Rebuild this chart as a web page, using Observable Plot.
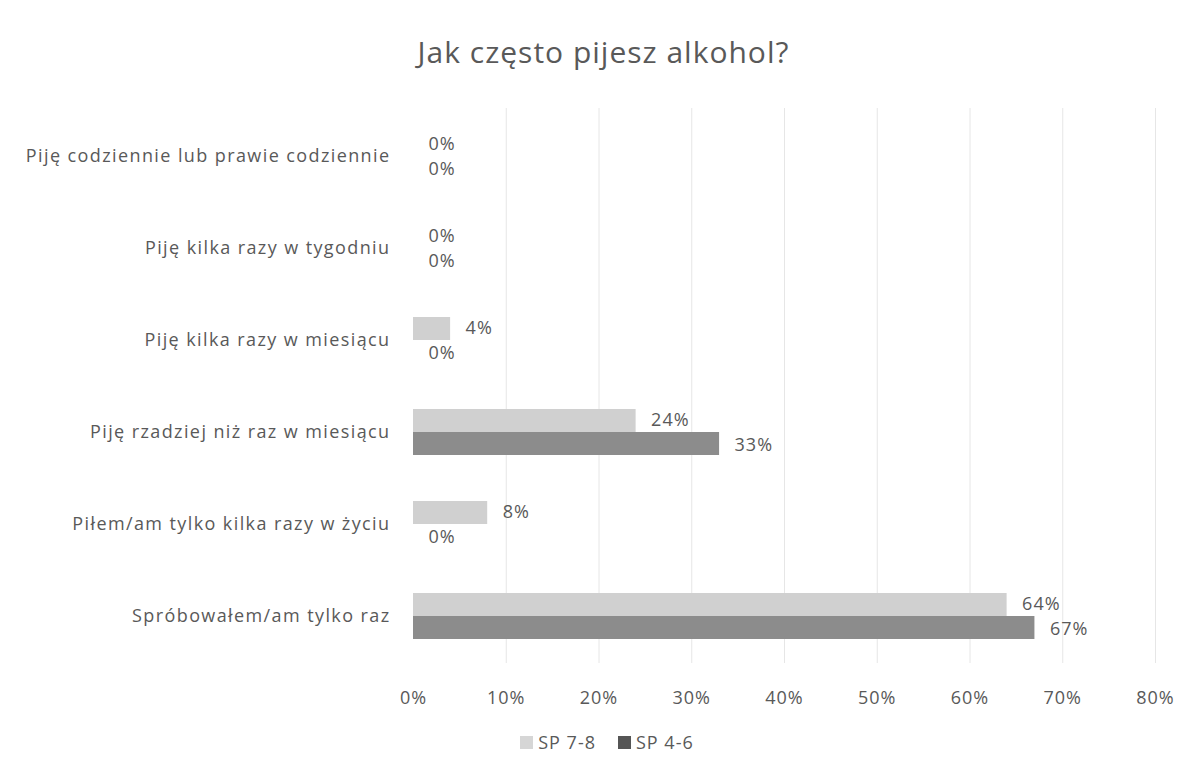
<!DOCTYPE html>
<html>
<head>
<meta charset="utf-8">
<script src="https://cdn.jsdelivr.net/npm/d3@7"></script>
<script src="https://cdn.jsdelivr.net/npm/@observablehq/plot@0.6"></script>
<style>
  body { margin: 0; background: #fff; font-family: "Open Sans", sans-serif; }
  #title { height: 100px; text-align: center; font-size: 30px; letter-spacing: 1px; color: #595959; line-height: 1; box-sizing: border-box; position: relative; }
  #title span { position: absolute; left: 0; right: 0; top: 37px; padding-left: 12px; }
  #legend { display: flex; justify-content: center; gap: 22px; font-size: 18px; letter-spacing: 1px; color: #595959; margin-top: 17px; padding-left: 19px; }
  #legend .item { display: flex; align-items: center; gap: 5px; }
  #legend .sw { width: 13px; height: 13px; display: inline-block; }
  #chart g[aria-label="y-axis tick label"] text { letter-spacing: 1.4px; }
  #chart g[aria-label="text"] text, #chart g[aria-label="x-axis tick label"] text { letter-spacing: 1px; }
</style>
</head>
<body>
<div id="title"><span>Jak często pijesz alkohol?</span></div>
<div id="chart"></div>
<div id="legend"></div>
<script>
const categories = [
  "Piję codziennie lub prawie codziennie",
  "Piję kilka razy w tygodniu",
  "Piję kilka razy w miesiącu",
  "Piję rzadziej niż raz w miesiącu",
  "Piłem/am tylko kilka razy w życiu",
  "Spróbowałem/am tylko raz"
];
const seriesNames = ["SP 7-8", "SP 4-6"];
const sp78 = [0, 0, 4, 24, 8, 64];
const sp46 = [0, 0, 0, 33, 0, 67];
const xTicks = [0, 10, 20, 30, 40, 50, 60, 70, 80];
const seriesColors = ["#d0d0d0", "#8c8c8c"];
const legendColors = ["#d6d6d6", "#555555"];

const rows78 = categories.map((c, i) => ({category: c, series: seriesNames[0], value: sp78[i]}));
const rows46 = categories.map((c, i) => ({category: c, series: seriesNames[1], value: sp46[i]}));
const fmt = d => d + "%";

const chart = Plot.plot({
  width: 1195,
  height: 613,
  marginLeft: 413,
  marginRight: 40,
  marginTop: 8,
  marginBottom: 50,
  style: {fontFamily: "Open Sans, sans-serif", fontSize: "18px", color: "#595959", background: "#fff"},
  x: {domain: [0, 80], ticks: xTicks, tickFormat: fmt, tickSize: 0, tickPadding: 28, label: null},
  y: {domain: categories, paddingInner: 0.5, paddingOuter: 0.25, tickSize: 0, tickPadding: 23, label: null},
  color: {domain: seriesNames, range: seriesColors},
  marks: [
    Plot.ruleX(xTicks.filter(d => d > 0), {stroke: "#e6e6e6", strokeWidth: 1}),
    Plot.barX(rows78, {x: "value", y: "category", fill: "series", insetBottom: 23}),
    Plot.barX(rows46, {x: "value", y: "category", fill: "series", insetTop: 23}),
    Plot.text(rows78, {x: "value", y: "category", text: d => fmt(d.value), dx: 15, dy: -12, textAnchor: "start", fill: "#595959", fontSize: 18}),
    Plot.text(rows46, {x: "value", y: "category", text: d => fmt(d.value), dx: 15, dy: 13, textAnchor: "start", fill: "#595959", fontSize: 18})
  ]
});
document.getElementById("chart").appendChild(chart);

const legend = document.getElementById("legend");
seriesNames.forEach((s, i) => {
  const item = document.createElement("div");
  item.className = "item";
  const sw = document.createElement("span");
  sw.className = "sw";
  sw.style.background = legendColors[i];
  const t = document.createElement("span");
  t.textContent = s;
  item.appendChild(sw);
  item.appendChild(t);
  legend.appendChild(item);
});
</script>
</body>
</html>
